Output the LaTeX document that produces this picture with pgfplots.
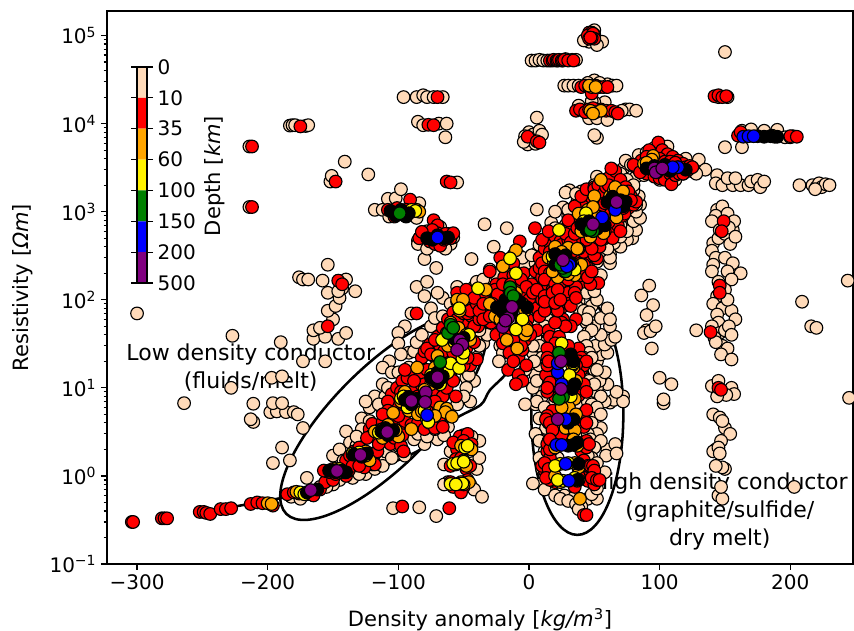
\documentclass[border=0pt]{standalone}
\usepackage{fontspec}
\setmainfont{DejaVu Sans}
\usepackage{pgfplots}
\pgfplotsset{compat=1.18}
\definecolor{peach}{HTML}{FFDAB9}
\definecolor{mpurple}{HTML}{800080}
\definecolor{morange}{HTML}{FFA500}
\definecolor{mgreen}{HTML}{008000}
\pgfplotsset{pts/.style={only marks,mark=*,mark size=4.75pt,mark options={draw=black,fill=#1,line width=0.85pt}}}
\begin{document}
\begin{tikzpicture}
\useasboundingbox (-80.25pt,-50.25pt) rectangle (560.25pt,423pt);
\begin{axis}[
 at={(0pt,0pt)},anchor=south west,scale only axis,width=559.5pt,height=414.75pt,
 xmin=-323,xmax=248,ymode=log,ymin=0.1,ymax=1.9e5,
 axis line style={line width=1.1pt},tick style={black,line width=0.9pt},
 tick align=outside,xtick pos=bottom,ytick pos=left,
 major tick length=4.5pt,minor tick length=2.6pt,
 xtick={-300,-200,-100,0,100,200},
 xticklabels={−300,−200,−100,0,100,200},
 ytick={0.1,1,10,100,1000,10000,100000},
 yticklabels={10\textsuperscript{−1},10\textsuperscript{0},10\textsuperscript{1},10\textsuperscript{2},10\textsuperscript{3},10\textsuperscript{4},10\textsuperscript{5}},
 minor ytick={.2,.3,.4,.5,.6,.7,.8,.9,2,3,4,5,6,7,8,9,20,30,40,50,60,70,80,90,200,300,400,500,600,700,800,900,2000,3000,4000,5000,6000,7000,8000,9000,20000,30000,40000,50000,60000,70000,80000,90000},
 ticklabel style={font=\fontsize{15}{17}\selectfont},
 xlabel={Density anomaly [\textit{kg/m}\textsuperscript{3}]},
 ylabel={Resistivity [\textit{Ωm}]},
 label style={font=\fontsize{15.8}{18}\selectfont},
 xlabel style={yshift=-7pt},ylabel style={yshift=5.5pt},
 clip=true,
]
\addplot[pts=peach] coordinates {
(-300,70)(-227,39)(-264,6.7)(-190,33)(-228,10)(-211,6.6)(-211,4.1)(-213,4.4)(-198,5.3)(-193,5.4)(-186,5.3)(-180,5.3)(-177,5)(-196,6.7)(-189,6.7)(-173,20)(-156,20)(-197,13)(-189,13.5)(-165,36)(-156,38)(-146,36)(-165,45)(-160,48)(-140,42)(-150,60)(-154,75)(-148,85)(-154,120)(-143,135)(-133,125)(-145,105)(-176,180)(-173,170)(-169,170)(-154,250)(-158,165)(-140,170)(-146,125)
(-189,2.1)(-196,1.4)(-183,1.5)(-170,.95)(-173,3.5)(-140,3.2)(-150,1.7)(-145,2.0)(-137,2.4)(-125,1.05)(-160,.75)(-104,.43)(-84,.44)(-71,.35)
(-214,5500)(-214,1130)(-183,9.5e3)(-181,9.6e3)(-179,9.6e3)(-171,9.4e3)(-169,9.6e3)(-96,2e4)(-86,2e4)(-81,2.1e4)(-78,2e4)(-73,2e4)(-66,2e4)(-85,1.05e4)(-81,9.6e3)(-69,1e4)(-63,1e4)(-64,7e3)(-141,3700)(-123,2650)(-152,2200)(-151,2550)(-55,2150)
(-118,1050)(-112,1050)(-108,1400)(-102,1420)(-98,1800)(-90,1100)(-86,850)(-107,880)(-84,1250)(-95,900)
(-80,290)(-71,230)(-44,290)(-85,470)(-83,520)(-78,600)(-72,640)(-68,670)(-62,560)(-60,430)(-85,430)(-78,380)(-64,380)(-58,510)
(-66,105)(-86,140)(-78,160)(-70,120)(-80,110)(-90,70)(-95,50)(-100,42)(-75,80)(-92,25)(-107,20)(-112,17)(-105,15)(-100,32)(-112,11)(-118,8)(-122,6)(-128,4.5)(-112,5.2)(-125,7)(-100,3.2)(-105,1.9)(-132,2.2)(-118,1.2)(-110,1.5)(-95,1.7)(-80,2.3)(-70,2.6)(-62,3.6)(-60,4.8)(-45,7)(-42,12)(-48,13)(-40,22)(-38,50)(-36,70)(-35,32)
(-65,2.9)(-60,1.9)(-65,1.35)(-62,.85)(-65,.8)(-45,.8)(-42,.7)(-43,1.4)(-40,1.2)(-38,1.6)(-38,2.5)(-36,.58)(-44,2.8)(-50,2.9)
(-34,720)(-17,650)(-27,400)(6,1060)(26,1120)(17,750)(31,1750)(52,2500)(73,3200)(6,1.17e4)(52,6900)(50,7400)(-1,5800)(0,8000)(3,7500)(5,5900)(8,8300)(10,7500)(-3,7200)(-4,6200)
(28,1650)(37,1300)(20,1000)(30,900)(47,1500)(55,2050)(72,1600)(85,1200)(84,1500)(80,1750)(79,500)(75,480)(82,620)(78,800)(70,400)(62,330)(60,520)(42,700)(38,640)(32,520)(30,430)(20,650)(14,260)(6,340)(-3,190)(8,200)(-12,320)(-20,180)(-28,160)(-35,100)(-40,85)(-42,140)(-30,220)(-20,250)(-10,260)(2,220)
(46,8.5e4)(56,8.5e4)(50,1.15e5)(42,8.8e4)(52,7.8e4)(2,5.2e4)(5,5.2e4)(8,5.3e4)(11,5.2e4)(14,5.2e4)(28,5.4e4)(33,5.3e4)(36,5.3e4)
(27,2.7e4)(30,2.7e4)(34,2.7e4)(38,2.7e4)(60,2.8e4)(64,2.7e4)(67,2.7e4)(50,3.1e4)(54,2.9e4)(45,2.9e4)(74,1.45e4)(77,1.45e4)(71,1.4e4)(82,1.4e4)(58,1.75e4)(50,1.75e4)(46,1.15e4)(52,1.15e4)(60,1.1e4)(38,1.6e4)(48,1.8e4)
(150,6.5e4)(145,2e4)(152,2e4)(163,5400)(163,8300)(170,8600)(180,8300)(190,8500)(196,7000)(202,7200)(200,7000)(150,5400)
(74,3800)(78,3400)(82,2500)(86,3000)(92,3800)(84,4400)(90,4700)(96,5300)(106,5500)(120,4000)(128,3400)(124,2900)(118,2700)(100,2300)(88,2600)(112,2300)(132,3100)(130,3900)(135,3000)
(128,2700)(144,2600)(143,2100)(148,2000)(156,2000)(152,2400)(162,2000)(158,2400)(168,2000)(170,2200)(175,2300)(177,1900)(180,2200)
(207,2000)(217,2000)(220,1900)(222,2100)(224,1900)(227,2050)(230,2000)(219,1800)
(144,1050)(148,1150)(143,900)(140,780)(152,950)(155,720)(156,620)(157,780)(141,440)(145,500)(146,620)(150,560)(154,430)(153,660)(158,520)(140,360)(143,300)(141,250)(140,210)(150,300)(156,260)(152,210)(162,200)(145,160)(155,170)(150,130)(144,110)(141,90)(148,80)(155,75)(152,100)(144,68)(158,60)
(128,45)(145,55)(140,50)(146,42)(150,45)(153,50)(155,40)(142,37)(148,30)(152,28)(147,24)(155,21)(143,33)
(94,28)(100,13)(109,11)(103,6.7)(103,7.4)(92,145)(86,112)(95,87)(90,67)(90,45)(88,42)(93,44)(97,50)
(140,10.5)(145,12)(148,9)(155,10)(157,8.5)(151,8.3)(144,8)(141,5)(146,4.6)(150,3.5)(154,3)(148,4.2)(147,2.5)(143,2)(141,1.9)(145,2.1)(146,1.8)(150,1.2)(145,.6)(148,1.25)(148,.55)(143,1.3)(147,.75)
(209,95)(216,50)(220,48)(245,7.7)(244,165)(203,.75)
(5,6.5)(12,12)(18,11)(8,4.5)(13,3.5)(10,2.5)(18,3.5)(20,7)(22,1.6)(10,.82)(12,1.9)(18,.8)(27,.6)(35,.58)(45,.55)(52,.55)(48,.62)(40,.45)(52,.72)(55,1.1)(58,1.1)
(60,2)(66,2.3)(59,1.7)(67,1.8)(46,2)(50,2.8)(48,3.5)(55,3.5)(62,6.8)(65,7.3)(72,8)(72,7)(67,9)(60,11)(52,10)(56,14)(58,7)(48,5)(50,7.5)
(54,12)(58,15)(45,14)(47,17)(52,20)(55,24)(60,25)(48,27)(51,30)(58,31)(63,35)(55,40)(66,38)(62,50)(50,50)(44,55)(40,70)(55,62)(60,80)(48,85)(38,95)(52,100)(62,60)(45,42)(15,22)(8,45)(10,60)(18,70)(12,32)(14,16)(10,8)(18,5.2)(40,6)(38,3)(42,10)
(28,110)(34,95)(38,80)(42,75)(46,72)(44,60)(48,45)(42,38)(44,30)(46,25)(42,22)(48,22)(44,18)(50,16)(46,12)(52,16)(47,9)(50,11)(55,8)(45,7)(48,6.5)(52,6)(55,5)(48,4)(52,3)(45,3)(47,2.6)(55,2.5)(50,2.1)(48,1.6)(45,1.7)(52,1.4)(44,1.1)(3,10)(5,14)(8,18)(6,7)(12,6)(5,3)(8,2.5)(8,1.6)(10,1.2)(3,.82)(12,.7)(20,.6)(24,.55)(30,.52)(36,.48)(38,.42)(-3,6.5)(3,25)(6,30)(5,38)(8,30)(10,22)(6,12)
(-110,8)(-108,10)(-100,15)(-92,17)(-98,24)(-88,26)(-86,33)(-82,40)(-75,50)(-72,62)(-66,65)(-60,90)(-55,140)(-48,60)(-40,40)(-38,30)(-45,20)(-46,14)(-48,10)(-50,8)(-55,6.5)(-115,6.5)(-122,4.2)(-128,3.4)(-132,2.8)(-110,1.9)(-100,2.2)(-88,2.6)(-85,3)(-78,2.8)(-72,3.4)(-120,1.35)(-112,1.3)(-105,1.6)(-142,1.5)(-135,.95)(-130,1.05)(-145,.9)(-150,.8)(-155,.75)(-182,.58)(-175,.55)
(-45,120)(-48,100)(-40,160)(-35,170)(-25,190)(-18,220)(-10,230)(-3,250)(5,260)(-5,300)(2,320)(8,420)(3,170)(8,150)(12,140)(16,100)(10,80)(5,60)(14,60)(12,50)(18,85)(-10,25)(-28,45)(-32,40)(-38,45)(-22,30)(3,30)(4,20)(-20,25)(-23,20)(-3,16)(-32,130)(20,180)(40,130)(44,120)(50,125)(55,190)(62,260)(62,300)(52,270)(55,360)(65,440)(70,520)(75,600)(80,780)(85,850)(82,1000)(82,1200)(70,700)(60,380)(45,1500)(40,1700)(30,1050)(36,1600)(28,700)(25,580)(22,450)(64,2400)(70,2700)(75,2300)(80,2000)(42,1400)(50,2000)
};
\addplot[pts=red] coordinates {
(-304,.30)(-303,.30)(-281,.33)(-279,.33)(-277,.33)(-252,.39)(-249,.39)(-247,.38)(-244,.37)(-236,.42)(-232,.42)(-228,.43)(-213,.48)(-208,.5)(-204,.49)(-198,.48)(-196,.46)(-185,.62)(-180,.65)(-176,.63)(-170,.62)(-165,.6)(-160,.7)(-156,.85)(-150,.9)
(-155,1.13)(-152,1.1)(-150,1.2)(-148,1.05)(-145,1.2)(-142,1.1)(-140,1.0)(-138,1.15)(-153,1.15)(-157,1.15)
(-140,1.5)(-137,1.7)(-134,1.9)(-131,1.45)(-128,2.0)(-125,1.4)(-122,1.8)(-120,1.6)(-118,1.35)(-126,1.25)(-135,1.3)(-116,1.9)
(-122,3.4)(-120,3.9)(-118,2.9)(-115,2.7)(-112,4.1)(-110,2.5)(-106,2.3)(-103,2.7)(-100,3.6)(-98,2.2)(-97,2.9)(-105,4.3)(-120,2.9)(-96,1.9)
(-105,8.5)(-103,6)(-101,10)(-99,5)(-97,12)(-95,4.2)(-93,13)(-90,3.8)(-88,15)(-85,4)(-83,14)(-80,3.4)(-78,6)(-76,4)(-74,9)(-72,3.5)(-70,6.5)(-68,4.8)(-66,3.6)(-64,5.4)(-61,5)(-108,7)
(-85,11)(-83,18)(-82,22)(-80,26)(-78,16)(-76,31)(-73,23)(-71,9)(-69,28)(-66,8)(-65,20)(-63,10)(-60,15)(-58,12)(-56,8)(-57,19)
(-70,38)(-68,30)(-66,48)(-64,25)(-62,60)(-60,21)(-58,72)(-56,17)(-53,85)(-50,55)(-48,28)(-46,42)(-45,18)(-44,65)(-42,33)(-40,21)(-39,50)(-52,100)(-86,70)
(-130,2.1)(-130,1.3)(-115,2.3)(-124,2.7)(-100,4.8)(-108,5.5)(-112,5)(-98,9)(-95,16)(-90,9)(-85,8)(-80,11)(-88,12)(-72,7)(-78,28)(-75,24)(-72,35)(-68,16)(-65,26)(-63,42)(-58,25)(-55,60)(-50,70)(-50,18)(-47,22)(-47,70)(-42,50)(-55,95)
(-154,50)(-97,.45)(-61,.43)(-212,5500)(-212,1130)(-175,9.3e3)(-70,2e4)(-77,9.7e3)(-73,9.6e3)(-148,2200)(-63,2200)(-60,2150)
(-91,1370)(-108,1050)(-105,1000)(-103,880)(-101,1100)(-97,1000)(-94,1050)
(-73,800)(-70,700)(-80,520)(-76,460)(-72,430)(-68,410)(-65,480)(-70,570)(-78,540)(-64,560)(-74,620)(-84,500)(-60,500)(-82,590)(-58,570)
(-146,165)(-143,150)(-55,120)(-50,90)(-48,130)(-45,75)
(-55,2)(-53,2.8)(-58,2.4)(-47,3)(-50,2.5)(-44,2.3)(-56,1.55)(-60,1.3)(-48,1.2)(-52,1.6)(-45,1.3)(-60,.85)(-58,.75)(-50,.75)(-47,.9)(-52,.65)
(-40,90)(-38,60)(-35,110)(-33,75)(-31,130)(-29,55)(-27,95)(-25,150)(-23,60)(-21,110)(-19,180)(-17,45)(-16,130)(-14,38)(-12,190)(-10,32)(-8,140)(-6,42)(-4,200)(-3,110)(-1,60)(2,150)(4,85)(6,45)(8,120)(-25,40)(-20,32)(-15,25)(-8,22)(-5,27)(-7,460)(4.6,650)(-22,300)(-12,260)(-30,210)(-3,35)
(-16,16)(-12,20)(-8,14)(-5,12)(-10,11)(-2,18)
(-38,75)(-35,60)(-42,105)(-30,65)(-26,130)(-24,115)(-20,150)(-18,40)(-14,150)(-6,170)(-2,140)(0,100)(3,120)(6,80)(8,65)(10,100)(12,75)(-6,30)(-12,35)(-2,50)(1,40)(-28,90)(-35,90)
(5,210)(8,300)(10,180)(12,380)(14,150)(16,440)(18,130)(20,520)(22,110)(24,460)(26,620)(28,140)(30,550)(32,170)(35,480)(37,210)(39,400)(41,160)(43,300)(45,230)(10,480)(15,600)(53,155)(52,295)(47,150)(18,250)(40,340)(6,130)(12,110)
(8,230)(10,260)(12,210)(16,200)(22,180)(28,190)(33,180)(38,260)(42,250)(44,200)(40,190)(16,350)(20,380)(25,420)(30,400)(36,350)(12,170)(20,150)(26,110)(30,120)(36,140)(45,180)(48,210)
(30,480)(33,620)(36,800)(38,480)(40,1000)(42,350)(44,1200)(46,420)(48,1450)(50,320)(52,1050)(54,400)(56,1600)(58,500)(60,1100)(62,640)(64,500)(66,800)(68,700)(70,600)(30,800)(35,1150)(40,1500)(44,1800)(50,1900)
(28,560)(32,450)(35,560)(37,650)(41,850)(45,950)(52,500)(55,480)(58,600)(61,760)(63,950)(48,380)(44,480)(38,380)(33,350)
(50,1800)(53,2000)(55,1350)(58,2300)(60,1000)(62,2500)(64,1600)(66,2900)(68,1000)(70,2300)(72,900)(74,1900)(76,1100)(78,1500)(80,1200)(82,1300)(63,3100)(60,1500)
(55,1150)(57,1600)(59,1900)(61,2000)(67,1800)(73,1650)(76,1700)(78,1350)(58,1250)(73,950)(66,900)(72,1100)
(85,3300)(87,2900)(88,3700)(90,2700)(92,3300)(94,4100)(96,2500)(99,6100)(98,4500)(100,2400)(102,5000)(104,2300)(106,4500)(108,2700)(109,2050)(110,4200)(112,2600)(114,3800)(116,2900)(118,3500)(120,3200)(122,3000)(92,5000)(96,3900)
(82,3200)(84,3000)(86,3800)(90,4200)(100,4000)(104,3700)(108,3700)(112,3600)(115,2700)(118,2700)(123,3300)(125,3200)(80,3400)(85,2800)
(46,1.08e5)(48,1.08e5)(45,1.0e5)(50,1.02e5)(49,1.05e5)(46,9.2e4)(50,9.2e4)(48,9.4e4)(47,9.5e4)
(16,5.2e4)(18,5.2e4)(19,5.3e4)(21,5.2e4)(22,5.2e4)(23,5.3e4)(25,5.2e4)(26,5.2e4)(27,5.3e4)(30,5.2e4)(34,5.2e4)
(40,2.6e4)(43,2.7e4)(46,2.6e4)(48,2.2e4)(51,2.7e4)(54,2.6e4)(57,2.6e4)(60,2.6e4)
(36,1.4e4)(39,1.45e4)(43,1.35e4)(46,1.45e4)(55,1.45e4)(59,1.4e4)(63,1.4e4)(66,1.35e4)(68,1.3e4)(49,1.5e4)
(-1,7100)(6,6300)(8,6100)(142,2.05e4)(145,2.1e4)(148,2e4)(151,2.05e4)(160,7300)(162,8000)(200,7200)(205,7100)
(149,780)(147.5,600)(146,145)(146,120)(139,43)(145,10)(147,9.5)
(12,95)(25,160)(30,170)(18,120)(22,130)(25,82)(35,120)(30,90)(26,60)(36,60)(32,50)(15,45)(16,38)(23,38)(38,28)(30,30)(40,22)(20,32)(18,25)(33,15)(36,14)(14,28)(14,22)(38,20)(40,16)
(15,11)(18,12)(38,11)(40,10)(42,9.5)(20,8)(35,8)(38,8.2)(16,10)(14,9)
(18,5.5)(14,4.8)(20,3.8)(40,5)(42,4.5)(38,3.8)(30,3.5)(15,4)(44,5.6)
(15,2.5)(18,2)(14,1.9)(42,2.4)(40,1.9)(44,2.1)(25,2.9)
(14,1.3)(16,1.6)(12,1.15)(38,1.2)(42,1.5)(45,1.3)(15,1.05)(20,.85)(18,.9)(48,.85)(42,.95)(45,.88)(50,.8)
(42,.36)(44,.36)(38,1)(35,.75)
(13,14)(14,18)(15,20)(42,18)(44,20)(36,18)(38,14)(16,11.5)(14,10)(42,11)(44,9)(13,4.4)(16,4)(18,3.3)(42,3.6)(44,4)(14,2.3)(16,2)(16,2.6)(44,2.5)(46,2.3)(10,1.3)(12,1.4)(15,1.2)(47,1.3)(49,1.3)(50,1.15)(16,.9)(13,.95)(48,.95)(52,.9)(54,.9)(25,55)(28,50)(20,55)(22,75)(20,92)(32,85)(24,100)(36,105)
};
\addplot[pts=morange] coordinates {
(-200,.49)(-197,.48)(-178,.66)(-148,1.2)(-143,1.1)(-135,1.75)(-125,1.9)(-122,1.5)(-115,3.3)(-112,2.7)(-105,3.4)(-103,3.0)(-108,3.8)(-100,2.8)
(-98,7)(-95,9)(-92,5.5)(-85,5)(-82,5.4)(-78,4.4)(-68,6)(-63,5.8)(-75,11)(-80,9.5)(-72,17)(-65,14)(-63,16)(-70,23)(-62,30)(-58,38)(-54,48)(-50,32)(-48,40)(-53,75)(-60,55)(-45,35)
(-85.6,17)(-90,3.4)(-64,5.3)(-59,4.7)(-104,5.2)(-72,4.8)(-118,3.2)(-102,3.3)
(-52,2.2)(-46,2.1)(-50,1.5)(-56,1.35)(-48,1.3)(-52,.85)(-46,.85)(-50,.8)(-44,2.0)
(-89,1030)(-86,1050)(-84,1000)(-90,1000)(-55,100)(-50.5,100)(-10,365)
(-33,130)(-30,90)(-26,65)(-20,240)(-22,60)(-18,100)(-10,120)(-5,90)(-3,75)(-4,50)(-15,70)
(-9,28)(-17,35)(-3,40)(-1.5,45)(30,390)(20,400)(22,180)(25,350)(35,190)(37,380)(40,250)(15,300)(18,210)(30,195)
(38,950)(40,600)(44,650)(47,520)(53,880)(57,570)(45,1050)(67,860)(50,1500)(49,1130)
(55,2300)(62,1500)(65,1750)(66,1900)(72,1700)(70,1300)
(95,4300)(92,3300)(88,3500)(94,3900)(90,3600)(96,3200)(98,3000)
(48,2.6e4)(46,2.7e4)(51,2.6e4)(51,1.35e4)(47,1.4e4)(55,1.4e4)(49,1.3e4)
(39,.55)(34,17)(36,12)(33,18)(35,7.5)(30.5,6)(36,5)(32,3.8)(28,3.5)(25,6)(35,3.3)(37,2.2)(34,2.6)(20,2.1)(38,1.25)(35,1.4)(20,1.0)(24,.85)(38,.9)
};
\addplot[pts=yellow] coordinates {
(-175,.65)(-172,.62)(-150,1.15)(-145,1.2)(-141,1.1)(-135,1.8)(-130,1.85)(-125,1.7)(-115,3.1)(-112,3.4)(-106,3.2)
(-98,7.6)(-96,8)(-93,6)(-80,5.5)(-78,4.4)(-77,4.1)(-75,14)(-72,12)(-68,11)(-67,13)(-62,15)(-60,19)(-66.5,35)(-53.5,16.8)(-51,21.7)(-50,25)(-53.5,80)(-46,40)(-57,33)
(-14.5,295)(-10,200)(-39,135)(-10,46)(-5,60)
(-49,2.1)(-47,2.2)(-58,1.37)(-55,1.4)(-60,.81)(-54,.81)(-51,.82)(-56,.8)(-50,1.45)
(-92,1000)(-90,1050)(-87,1020)
(19,270)(21,280)(33,260)(35,220)(18,310)(27,210)(23,620)(43.6,960)(42,780)(47,660)
(25,32)(31,14)(34,19)(32,8)(24,1.37)(20,1.3)(26,.88)(37,.88)(35,.95)(22,.9)(30,1.4)(188,7100)(186,7300)
};
\addplot[pts=black] coordinates {
(-170,.65)(-162,.7)(-153,1.15)(-148,1.1)(-143,1.15)(-140,1.1)(-134,1.75)(-128,1.65)(-124,1.8)(-113,3.2)(-108,2.9)(-104,3.3)(-110,3.5)(-95,7.3)(-90,6.5)(-86,7.5)(-92,7.9)(-75,13)(-70,11.5)(-66,13.5)(-70,15)(-57,36)(-53,30)(-50,37)
(-24.5,82)(-18,99)(-13,77)(-7,94)(-1.5,82)(-20,72)(-10,104)
(20,250)(26,240)(32,260)(28,320)(20,330)
(40,720)(46,780)(52,640)(58,700)(56,800)(44,620)
(60,1290)(65,1150)(70,1350)(72,1150)(64,1480)(74,1300)
(90,3100)(96,3300)(104,3400)(108,2900)(114,3200)(120,3000)(98,2800)
(-106,1020)(-102,900)(-98,1050)(-94,880)(-92,960)
(-78,500)(-74,480)(-70,540)(-65,500)(-62,510)
(34,20)(32,24)(33,9.7)(35,11)(34,4.4)(30,4)(34,2.25)(37,2.4)(30,2.2)(38,1.37)(37,.9)
(175,7200)(180,7100)(185,7200)(190,7100)
};
\addplot[pts=mgreen] coordinates {
(-62,42)(-60,52)(-58,48)(-68,19.6)
(-99,960)
(-14.5,139)(-14,120)(-12,110)
(28,210)(26,230)(24,250)
(49,600)(47,620)
(23,25)(26,7.9)(23,7.5)
};
\addplot[pts=blue] coordinates {
(-78,4.9)
(-70,510)
(31,250)(29,240)
(56,860)(66,1050)
(114,3200)(110,3200)
(22,15)(22,19)(25,11)
(28,4.4)(21,2.25)(25,2.25)(28,1.37)(30.5,.88)
(164,7100)(168,7200)(172,7200)
};
\addplot[pts=mpurple] coordinates {
(-167,.69)(-147,1.14)(-129,1.73)(-108.5,3.15)(-90,7.1)(-79,8.9)(-79.5,6.9)(-70,13.2)(-53,34.6)(-51,31)(-55,27)
(-16,62)(-20,49)(-18,58)(-13,83)
(26,282)(49,720)(67,1290)(96,3100)(97,2800)(102,3100)
(24.5,20)(24.5,9.7)(22,4.4)
};
\node[fill=white,fill opacity=0.85,text opacity=1,align=center,inner sep=2.5pt,font=\fontsize{16.5}{21}\selectfont] at (axis cs:-213,17.2) {Low density conductor\\(fluids/melt)};
\node[fill=white,fill opacity=0.85,text opacity=1,align=center,inner sep=2.5pt,font=\fontsize{16.5}{21}\selectfont] at (axis cs:146,.40) {High density conductor\\(graphite/sulfide/\\dry melt)};
\addplot[black,line width=1.9pt,smooth,no marks] coordinates {(-253,.38)(-190,.56)(-154,.75)(-120,1.15)(-83,2)(-58,4.3)(-37,6.4)(-30,9.4)(-14.5,17)(-11,45)(-7,128)(-4.6,365)};
\draw[black,line width=1.9pt,rotate around={45:(axis cs:-111.6,4.67)}] (axis cs:-111.6,4.67) ellipse [x radius=102.75pt,y radius=37pt];
\draw[black,line width=1.9pt] (axis cs:37,5) ellipse [x radius=34.5pt,y radius=90.4pt];
\end{axis}
\begin{axis}[
 at={(22.5pt,210.75pt)},anchor=south west,scale only axis,width=7.5pt,height=162pt,
 xmin=0,xmax=1,ymin=0,ymax=7,y dir=reverse,
 xtick=\empty,ytick={0,1,2,3,4,5,6,7},
 yticklabels={0,10,35,60,100,150,200,500},
 yticklabel pos=right,tick align=outside,
 major tick length=4.5pt,tick style={black,line width=0.9pt},
 axis line style={line width=0.9pt},
 ticklabel style={font=\fontsize{15}{17}\selectfont},
 axis on top,
]
\addplot[draw=none,fill=peach] coordinates {(0,0)(1,0)(1,1)(0,1)} \closedcycle;
\addplot[draw=none,fill=red] coordinates {(0,1)(1,1)(1,2)(0,2)} \closedcycle;
\addplot[draw=none,fill=morange] coordinates {(0,2)(1,2)(1,3)(0,3)} \closedcycle;
\addplot[draw=none,fill=yellow] coordinates {(0,3)(1,3)(1,4)(0,4)} \closedcycle;
\addplot[draw=none,fill=mgreen] coordinates {(0,4)(1,4)(1,5)(0,5)} \closedcycle;
\addplot[draw=none,fill=blue] coordinates {(0,5)(1,5)(1,6)(0,6)} \closedcycle;
\addplot[draw=none,fill=mpurple] coordinates {(0,6)(1,6)(1,7)(0,7)} \closedcycle;
\end{axis}
\node[rotate=90,font=\fontsize{15.8}{18}\selectfont] at (81pt,291pt) {Depth [\textit{km}]};
\end{tikzpicture}
\end{document}
